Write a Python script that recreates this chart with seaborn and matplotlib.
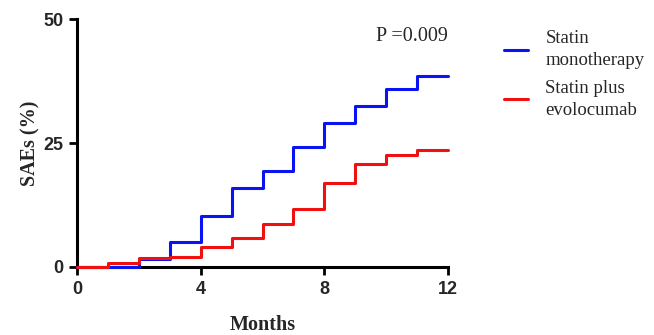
import pandas as pd
import matplotlib
matplotlib.use("Agg")
import matplotlib.pyplot as plt
import seaborn as sns

# Cumulative SAE rates by month
months = [0, 1, 2, 3, 4, 5, 6, 7, 8, 9, 10, 11, 12]
mono = [0, 0, 1.6, 5.1, 10.3, 15.9, 19.4, 24.3, 29.0, 32.5, 35.9, 38.5, 38.5]
evolo = [0, 0.9, 1.9, 2.0, 4.0, 5.8, 8.7, 11.7, 16.9, 20.7, 22.6, 23.5, 23.5]
groups = ["Statin\nmonotherapy", "Statin plus\nevolocumab"]
colors = ["#0a14f0", "#f01010"]
xticks = [0, 4, 8, 12]
yticks = [0, 25, 50]

df = pd.DataFrame({
    "Months": months * 2,
    "SAEs": mono + evolo,
    "Group": [groups[0]] * len(months) + [groups[1]] * len(months),
})

sns.set_style("ticks")
plt.rcParams["font.family"] = ["Liberation Serif", "DejaVu Serif"]

fig = plt.figure(figsize=(6.54, 3.35), dpi=100)
ax = fig.add_axes([0.118, 0.203, 0.567, 0.740])

sns.lineplot(data=df, x="Months", y="SAEs", hue="Group", palette=colors,
             drawstyle="steps-post", linewidth=2.2, ax=ax, zorder=3)
for ln in ax.lines:
    ln.set_clip_on(False)

ax.set_xlim(0, 12)
ax.set_ylim(0, 50)
tick_font = dict(fontfamily="Liberation Sans", fontweight="bold", fontsize=13)
ax.set_xticks(xticks, labels=[str(v) for v in xticks], **tick_font)
ax.set_yticks(yticks, labels=[str(v) for v in yticks], **tick_font)
ax.tick_params(width=2, length=6, color="black", pad=4)
sns.despine(ax=ax)
for s in ["left", "bottom"]:
    ax.spines[s].set_linewidth(2.2)
    ax.spines[s].set_color("black")

ax.set_xlabel("Months", fontsize=14.5, fontweight="bold", labelpad=12)
ax.set_ylabel("SAEs (%)", fontsize=14.5, fontweight="bold", labelpad=2)

ax.text(12, 46.5, "P =0.009", ha="right", va="center", fontsize=14.5)

leg = ax.legend(title=None, frameon=False, fontsize=13.5, loc="upper left",
                bbox_to_anchor=(0.745, 0.96), bbox_transform=fig.transFigure,
                handlelength=1.3, handletextpad=0.9, labelspacing=0.55)
for t in leg.get_texts():
    t.set_linespacing(1.4)

fig.savefig("out.png", dpi=100)
